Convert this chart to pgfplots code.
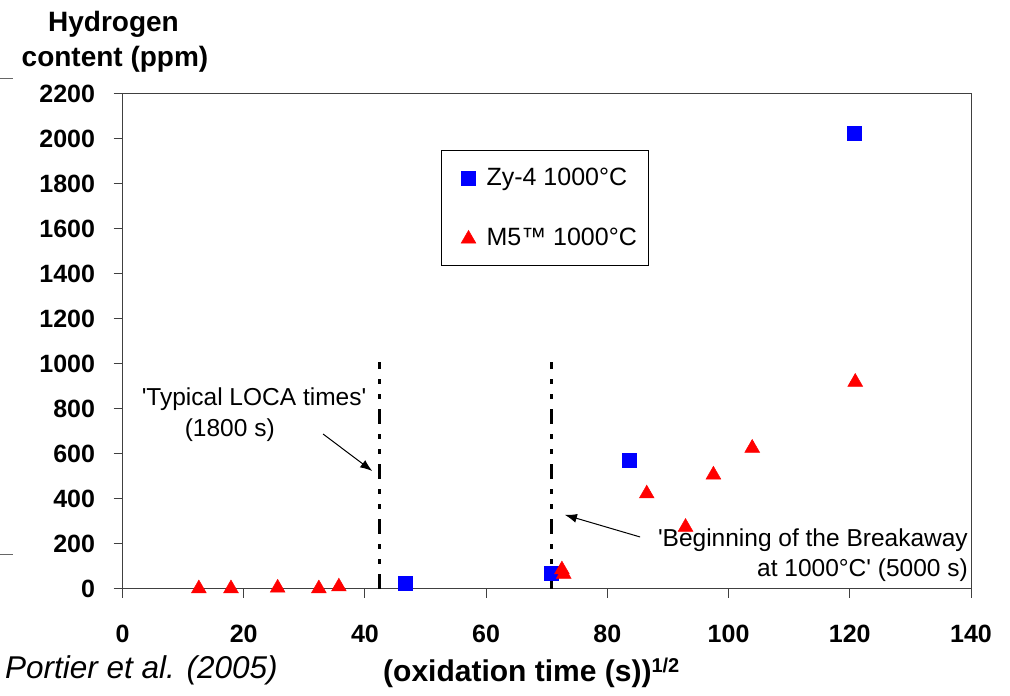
\documentclass[border=0pt]{standalone}
\usepackage{fontspec}
\setmainfont{Liberation Sans}
\usepackage{pgfplots}
\pgfplotsset{compat=1.18}
\usetikzlibrary{arrows.meta}
\pgfplotsset{
  sqleg/.style={legend image code/.code={\path[draw=none,fill=none] (0pt,-6pt) (26pt,6pt); \draw[##1] plot coordinates {(17pt,0pt)};}},
  trileg/.style={legend image code/.code={\path[draw=none,fill=none] (0pt,-6pt) (26pt,6pt); \draw[##1] plot coordinates {(17pt,-1pt)};}},
}
\begin{document}
\begin{tikzpicture}
\begin{axis}[
  at={(122.5pt,107pt)}, anchor=south west,
  scale only axis, width=848.5pt, height=495.5pt,
  xmin=0, xmax=140, ymin=0, ymax=2200,
  xtick={0,20,...,140}, ytick={0,200,...,2200},
  axis line style={black!75, line width=1pt},
  tick style={black!75, line width=1pt},
  major tick length=9pt,
  tick align=outside,
  xtick pos=bottom, ytick pos=left,
  ticklabel style={font=\fontsize{25}{30}\selectfont\bfseries},
  xticklabel style={yshift=-24pt},
  yticklabel style={xshift=-15pt},
  /pgf/number format/assume math mode=true,
  /pgf/number format/1000 sep={},
  legend cell align=left,
  legend style={at={(rel axis cs:0.3754,0.886)}, anchor=north west,
    draw=black, line width=1pt, fill=white,
    font=\fontsize{25}{30}\selectfont,
    inner xsep=10pt, inner ysep=16pt, row sep=37pt, column sep=7pt,
    nodes={inner sep=2pt}},
]
\addplot[forget plot, black, line width=3pt, dash pattern=on 15pt off 10pt on 5pt off 10pt on 5pt off 10pt] coordinates {(42.43,0) (42.43,1010)};
\addplot[forget plot, black, line width=3pt, dash pattern=on 15pt off 10pt on 5pt off 10pt on 5pt off 10pt] coordinates {(70.71,0) (70.71,1010)};
\addplot[only marks, mark=square*, mark size=7pt, color=blue, mark options={line width=0.5pt}, sqleg] coordinates {
(46.6,25) (70.7,70) (83.6,573) (120.7,2023)};
\addlegendentry{Zy-4 1000°C}
\addplot[only marks, mark=triangle*, mark size=8.5pt, color=red, mark options={line width=0.5pt}, trileg] coordinates {
(12.6,2) (17.9,2) (25.6,5) (32.4,2) (35.7,10) (72.5,86) (72.8,66) (86.5,423) (92.9,275) (97.5,507) (103.9,626) (120.9,919)};
\addlegendentry{M5™ 1000°C}
\draw[-{Latex[length=12pt,width=9pt]}, line width=1pt] (axis cs:33.1,688) -- (axis cs:41.2,524);
\draw[-{Latex[length=12pt,width=9pt]}, line width=1pt] (axis cs:85.4,231) -- (axis cs:73.0,329);
\node[anchor=base, inner sep=0pt, font=\fontsize{24.5}{29}\selectfont] at (axis cs:21.7,814) {\textquotesingle Typical LOCA times\textquotesingle};
\node[anchor=base, inner sep=0pt, font=\fontsize{24.5}{29}\selectfont] at (axis cs:17.7,676) {(1800 s)};
\node[anchor=base east, inner sep=0pt, font=\fontsize{24.5}{29}\selectfont] at (axis cs:139.5,190) {\textquotesingle Beginning of the Breakaway};
\node[anchor=base east, inner sep=0pt, font=\fontsize{24.5}{29}\selectfont] at (axis cs:139.5,55) {at 1000°C\textquotesingle{} (5000 s)};
\end{axis}
\node[anchor=base, inner sep=0pt, font=\fontsize{28}{33}\selectfont\bfseries] at (113.5pt,664pt) {Hydrogen};
\node[anchor=base, inner sep=0pt, font=\fontsize{28}{33}\selectfont\bfseries] at (115pt,629pt) {content (ppm)};
\node[anchor=base west, inner sep=0pt, font=\fontsize{30}{35}\selectfont\bfseries] at (383pt,14pt) {(oxidation time (s))\textsuperscript{\fontsize{20}{20}\selectfont 1/2}};
\node[anchor=base west, inner sep=0pt, font=\fontsize{31.5}{36}\selectfont\itshape] at (5pt,17pt) {Portier et al. (2005)};
\draw[black!60, line width=1pt] (0pt,617pt) -- (13pt,617pt);
\draw[black!60, line width=1pt] (0pt,141pt) -- (13pt,141pt);
\pgfresetboundingbox
\path (0pt,0pt) rectangle (1010pt,696pt);
\end{tikzpicture}
\end{document}
